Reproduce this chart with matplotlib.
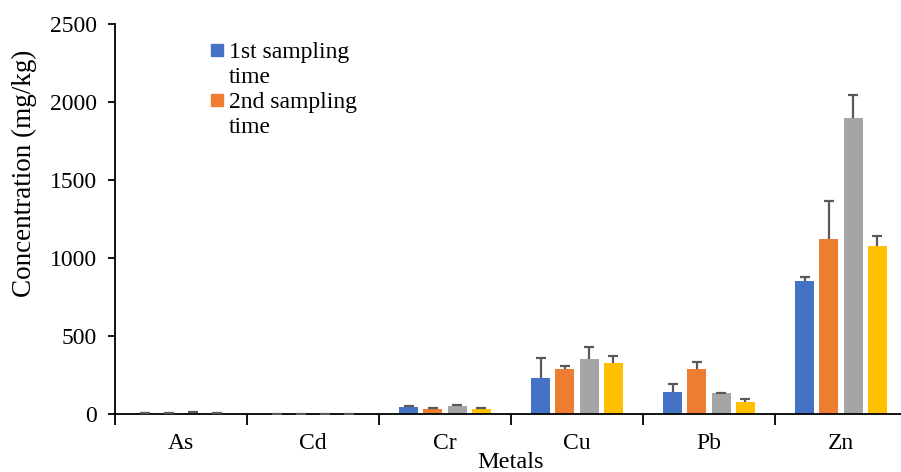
import numpy as np
import matplotlib.pyplot as plt
from matplotlib.patches import Rectangle

plt.rcParams['font.family'] = ['Liberation Serif', 'DejaVu Serif']

# data
metals = ["As", "Cd", "Cr", "Cu", "Pb", "Zn"]
colors = ["#4472C4", "#ED7D31", "#A5A5A5", "#FFC000"]

s1 = [4, 1, 45, 233, 141, 852]
s2 = [3, 1, 33, 286, 286, 1120]
s3 = [7, 1, 50, 350, 132, 1895]
s4 = [3, 1, 33, 325, 77, 1079]
e1 = [1, 0.5, 5, 124, 53, 28]
e2 = [1, 0.5, 5, 24, 47, 247]
e3 = [3, 0.5, 10, 79, 5, 150]
e4 = [1, 0.5, 7, 45, 21, 64]

values = [s1, s2, s3, s4]
errors = [e1, e2, e3, e4]

W, H = 901, 472
fig = plt.figure(figsize=(W / 100, H / 100), dpi=100)
ax = fig.add_axes([115 / W, 1 - 414 / H, 792 / W, 390 / H])

x = np.arange(len(metals))
width = 0.145
pitch = 0.183
for i in range(4):
    xi = x + (i - 1.5) * pitch
    v = np.array(values[i])
    e = np.array(errors[i])
    ax.bar(xi, v, width, color=colors[i], zorder=2)
    # upper error bar only: stem from bar top plus a cap
    ax.vlines(xi, v, v + e, color="#595959", lw=1.6, zorder=3)
    ax.plot(xi, v + e, ls="none", marker="_", markersize=7.5, mew=1.6,
            color="#595959", zorder=3)

ax.set_xlim(-0.5, len(metals) - 0.5)
ax.set_ylim(0, 2500)
ax.set_yticks(np.arange(0, 2501, 500))
ax.set_xticks(x)
ax.set_xticklabels(metals)
ax.set_xticks(np.arange(-0.5, len(metals)), minor=True)
ax.tick_params(axis="x", which="major", length=0, pad=14, labelsize=17)
ax.tick_params(axis="x", which="minor", length=8, width=1.3, direction="out")
ax.tick_params(axis="y", length=5, width=1.3, direction="out", pad=8, labelsize=17)

for side in ["top", "right"]:
    ax.spines[side].set_visible(False)
for side in ["left", "bottom"]:
    ax.spines[side].set_linewidth(1.3)

ax.set_ylabel("Concentration (mg/kg)", fontsize=19.5)
ax.yaxis.set_label_coords((37 - 115) / 792, (414 - 173) / 390)
ax.set_xlabel("Metals", fontsize=17.5, labelpad=-2)

# legend drawn by hand so the square sits beside the first line
leg_labels = ["1st sampling\ntime", "2nd sampling\ntime"]
for i, lab in enumerate(leg_labels):
    y0 = 50 + i * 50
    fig.patches.append(Rectangle((211 / W, 1 - (y0 + 6) / H), 12 / W, 12 / H,
                                 transform=fig.transFigure, color=colors[i]))
    fig.text(229 / W, 1 - (y0 - 8) / H, lab, fontsize=17, va="top", ha="left",
             linespacing=1.25)

fig.savefig("out.png", dpi=100)
